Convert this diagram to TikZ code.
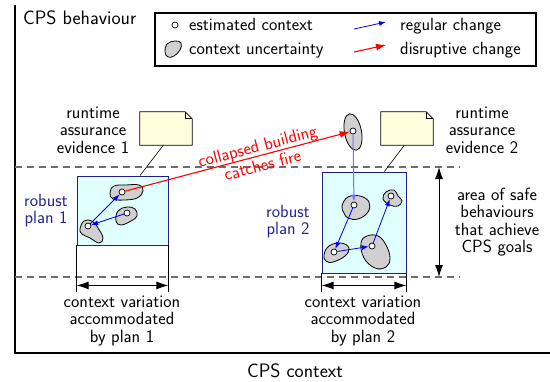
\documentclass[tikz,border=0pt]{standalone}
\usepackage{fontspec}
\usetikzlibrary{arrows.meta,calc}
\definecolor{boxfill}{RGB}{224,255,255}
\definecolor{boxline}{RGB}{30,30,140}
\definecolor{notefill}{RGB}{255,255,221}
\definecolor{plantext}{RGB}{35,35,150}
\definecolor{blobfill}{RGB}{208,208,208}
\definecolor{dashgray}{RGB}{110,110,110}
\newcommand{\notefold}[1]{%
  \filldraw[fill=notefill,line width=0.8pt] (#1.south west) -- (#1.north west) -- ([xshift=-7pt]#1.north east) -- ([yshift=-7pt]#1.north east) -- (#1.south east) -- cycle;
  \draw[line width=0.8pt] ([xshift=-7pt]#1.north east) |- ([yshift=-7pt]#1.north east);}
\tikzset{
  txt/.style={align=center,inner sep=0pt},
  bigtxt/.style={font=\sffamily\fontsize{19.4}{21}\selectfont,inner sep=0pt},
  est/.style={circle,draw,fill=white,inner sep=0pt,minimum size=6pt,line width=0.7pt},
  blob/.style={draw,fill=blobfill,line width=0.8pt},
  planbox/.style={draw=boxline,fill=boxfill,line width=0.9pt},
  notebox/.style={minimum width=52pt,minimum height=33pt,inner sep=0pt},
  reg/.style={blue,line width=0.8pt,-{Latex[length=7pt,width=5pt]}},
  dis/.style={red,line width=1.1pt,-{Latex[length=10pt,width=7pt]}},
  dashline/.style={dashgray,line width=1.1pt,dash pattern=on 7pt off 5pt},
  dimarrow/.style={line width=1pt,{Latex[length=12pt,width=8pt]}-{Latex[length=12pt,width=8pt]}},
  axisline/.style={line width=2pt}
}
\begin{document}
\begin{tikzpicture}[x=1pt,y=-1pt,font=\sffamily\fontsize{17.7}{17.5}\selectfont]
\useasboundingbox (0,0) rectangle (550,381);
% axes
\coordinate (ytop) at (15,5);
\coordinate (orig) at (15,353);
\coordinate (xend) at (550,353);
\draw[axisline] (ytop) -- (orig) -- (xend);
\node[bigtxt,anchor=base west] (yl) at (23,24) {CPS behaviour};
\node[bigtxt,anchor=base] (xl) at (295,377) {CPS context};
% dashed band
\draw[dashline] (15,167) -- (460,167);
\draw[dashline] (15,277) -- (460,277);
% legend
\node[draw,line width=1.2pt,minimum width=381pt,minimum height=53pt,inner sep=0pt] (leg) at (345.5,39.5) {};
\node[est] (lc) at (175,25) {};
\node[anchor=base west,inner sep=0pt] (lct) at (189,30.5) {estimated context};
\draw[blob] plot[smooth cycle,tension=0.7] coordinates {(165,52) (167,44) (175,41) (181,43) (180,50) (174,56) (168,57)};
\node[anchor=base west,inner sep=0pt] (lbt) at (189,54) {context uncertainty};
\coordinate (lra) at (354,29); \coordinate (lrb) at (386,22);
\draw[reg] (lra) -- (lrb);
\node[anchor=base west,inner sep=0pt] (lrt) at (400,30.5) {regular change};
\coordinate (lda) at (354,52); \coordinate (ldb) at (386,45);
\draw[dis] (lda) -- (ldb);
\node[anchor=base west,inner sep=0pt] (ldt) at (400,54) {disruptive change};
% plan boxes
\node[planbox,minimum width=91pt,minimum height=69pt,inner sep=0pt] (p1) at (122.5,210.5) {};
\node[planbox,minimum width=84pt,minimum height=101pt,inner sep=0pt] (p2) at (364,222.5) {};
\node[txt,text=plantext] (r1) at (46,210.5) {robust\\plan 1};
\node[txt,text=plantext] (r2) at (288,221.5) {robust\\plan 2};
% plan 1 blobs
\draw[blob] plot[smooth cycle,tension=0.7] coordinates {(110,193) (114,186) (126,185) (139,185) (143,191) (137,198) (124,200) (113,199)};
\draw[blob] plot[smooth cycle,tension=0.7] coordinates {(116,221) (118,211) (127,207) (135,209) (137,216) (131,221) (121,225)};
\draw[blob] plot[smooth cycle,tension=0.7] coordinates {(80,229) (84,221) (92,221) (98,228) (103,238) (99,243) (90,238) (82,234)};
\node[est] (c1a) at (122,192) {};
\node[est] (c1b) at (127,213) {};
\node[est] (c1c) at (88,226) {};
% plan 2 blobs
\draw[blob] plot[smooth cycle,tension=0.7] coordinates {(342,206) (348,197) (360,196) (369,202) (368,212) (358,219) (348,218) (344,213)};
\draw[blob] plot[smooth cycle,tension=0.7] coordinates {(383,199) (386,192) (394,190) (398,196) (402,201) (398,206) (390,205)};
\draw[blob] plot[smooth cycle,tension=0.7] coordinates {(324,255) (329,246) (341,243) (349,248) (345,256) (333,262) (326,261)};
\draw[blob] plot[smooth cycle,tension=0.7] coordinates {(361,243) (367,236) (378,236) (386,245) (390,258) (386,267) (375,268) (364,258)};
\node[est] (c2a) at (354,205) {};
\node[est] (c2b) at (391,196) {};
\node[est] (c2c) at (334,252) {};
\node[est] (c2d) at (372,246) {};
% disrupted context
\draw[blob] (353,132) ellipse [x radius=8.5pt, y radius=18.5pt, rotate=11];
\node[est] (ct) at (353,131) {};
% regular changes
\draw[reg] (c1b) -- (c1c);
\draw[reg] (c1c) -- (c1a);
\draw[reg,blue!55,line width=1pt] (ct) -- (c2a);
\draw[reg] (c2a) -- (c2c);
\draw[reg] (c2c) -- (c2d);
\draw[reg] (c2d) -- (c2b);
% disruptive change
\draw[dis] (c1a) -- node[sloped,pos=0.6,align=center,text=red,inner sep=0pt,font=\sffamily\fontsize{17.7}{19.5}\selectfont] {collapsed building\\catches fire} (ct);
% notes
\node[notebox] (n1) at (166,128.5) {};
\notefold{n1}
\node[notebox] (n2) at (407,128.5) {};
\notefold{n2}
\draw[line width=0.6pt] ($(n1.south west)!0.45!(n1.south east)$) -- ($(p1.north west)!0.69!(p1.north east)$);
\draw[line width=0.6pt] ($(n2.south west)!0.45!(n2.south east)$) -- ($(p2.north west)!0.74!(p2.north east)$);
\node[txt] (e1) at (93,130) {runtime\\assurance\\evidence 1};
\node[txt] (e2) at (482,130) {runtime\\assurance\\evidence 2};
% dimension lines
\draw[line width=0.6pt] (p1.south west) -- ++(0,47);
\draw[line width=0.6pt] (p1.south east) -- ++(0,47);
\draw[dimarrow] ($(p1.south west)+(0,40)$) -- ($(p1.south east)+(0,40)$);
\draw[line width=0.6pt] (p2.south west) -- ++(0,19);
\draw[line width=0.6pt] (p2.south east) -- ++(0,19);
\draw[dimarrow] ($(p2.south west)+(0,12)$) -- ($(p2.south east)+(0,12)$);
\node[txt] (v1) at (122,321) {context variation\\accommodated\\by plan 1};
\node[txt] (v2) at (363,321) {context variation\\accommodated\\by plan 2};
% safe area
\coordinate (sa) at (439,167); \coordinate (sb) at (439,277);
\draw[dimarrow] (sa) -- (sb);
\node[txt] (sf) at (497,222) {area of safe\\behaviours\\that achieve\\CPS goals};
\end{tikzpicture}
\end{document}
